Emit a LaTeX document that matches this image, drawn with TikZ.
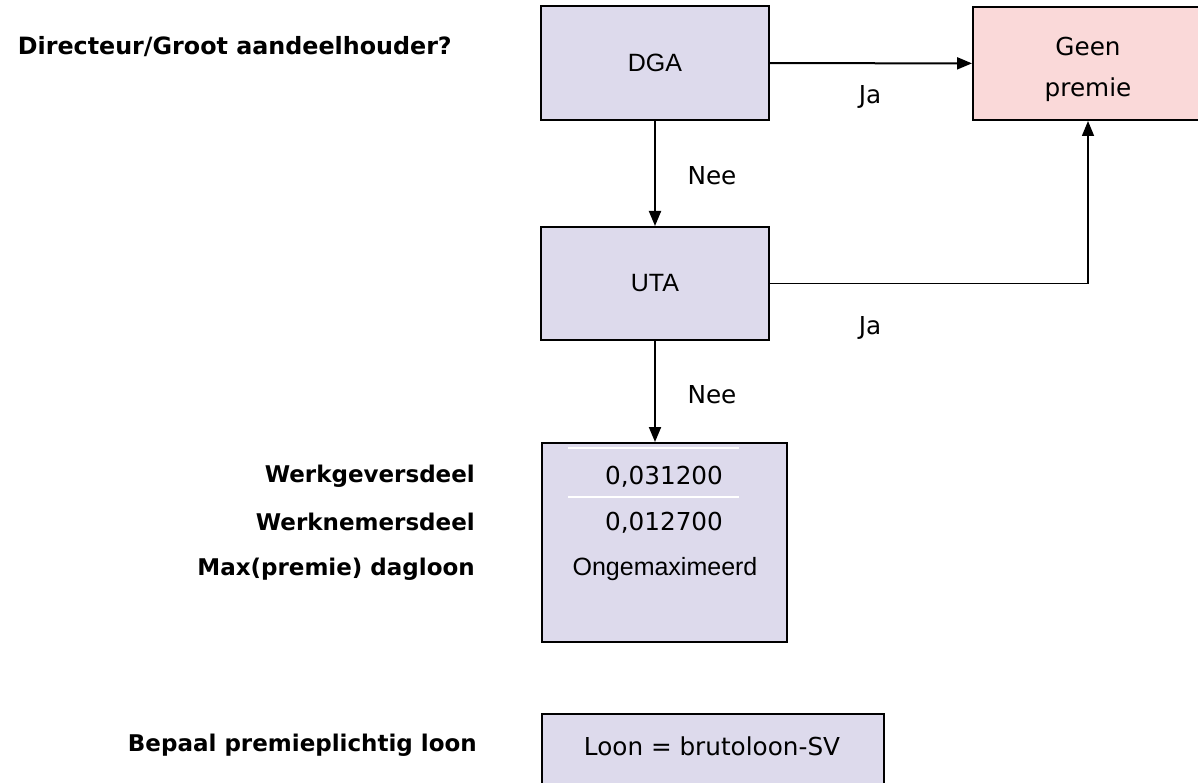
\documentclass[tikz,border=0pt]{standalone}
\usepackage{fontspec}
\setmainfont{DejaVu Sans}
\newfontfamily\arialf{Liberation Sans}
\usetikzlibrary{arrows.meta}
\definecolor{lav}{RGB}{221,218,236}
\definecolor{pinkc}{RGB}{250,217,217}
\begin{document}
\begin{tikzpicture}[x=1pt,y=-1pt,
  box/.style={draw=black,line width=2pt,fill=lav,inner sep=0pt},
  arr/.style={line width=2pt,-{Triangle[length=15pt,width=12pt]}},
  lbl/.style={font=\fontsize{24.7}{41}\selectfont,inner sep=0pt},
  blbl/.style={font=\fontsize{23}{28}\selectfont\bfseries,anchor=east,inner sep=0pt},
  afont/.style={font=\fontsize{25}{30}\selectfont\arialf}]
\useasboundingbox (0,0) rectangle (1198,783);
% boxes
\node[box,minimum width=228pt,minimum height=114pt,afont] (dga) at (655,63) {DGA};
\node[box,fill=pinkc,minimum width=230pt,minimum height=113pt] (geen) at (1088,63.5) {};
\node[lbl,align=center] (geentxt) at (1088,69) {Geen\\premie};
\node[box,minimum width=228pt,minimum height=113pt,afont] (uta) at (655,283.5) {UTA};
\node[box,minimum width=245pt,minimum height=199pt] (tbl) at (664.5,542.5) {};
\node[box,minimum width=342pt,minimum height=100pt,anchor=north west] (loon) at (541,713) {};
% white separators
\draw[white,line width=1.5pt] (568,448) -- (739,448);
\draw[white,line width=1.5pt] (568,497) -- (739,497);
% box texts
\node[lbl] (v1) at (664,477) {0,031200};
\node[lbl] (v2) at (664,523) {0,012700};
\node[afont,inner sep=0pt] (v3) at (665,569) {Ongemaximeerd};
\node[lbl] (lt) at (712,746) {Loon = brutoloon-SV};
% connectors
\draw[arr] (dga) -- (geen);
\draw[arr] (dga) -- (uta);
\draw[arr] (uta.south) -- (uta.south |- tbl.north);
\draw[arr,line width=1.5pt] (uta.east) -| (geen.south);
% connector labels
\node[lbl] (ja1) at (870,97) {Ja};
\node[lbl] (ja2) at (870,328) {Ja};
\node[lbl] (nee1) at (712,176) {Nee};
\node[lbl] (nee2) at (712,395) {Nee};
% left labels
\node[blbl,font=\fontsize{23.8}{28}\selectfont\bfseries] (q) at (452,47) {Directeur/Groot aandeelhouder?};
\node[blbl] (wg) at (475,476) {Werkgeversdeel};
\node[blbl] (wn) at (475,522) {Werknemersdeel};
\node[blbl] (mx) at (475,569) {Max(premie) dagloon};
\node[blbl] (bp) at (477,745) {Bepaal premieplichtig loon};
\end{tikzpicture}
\end{document}
